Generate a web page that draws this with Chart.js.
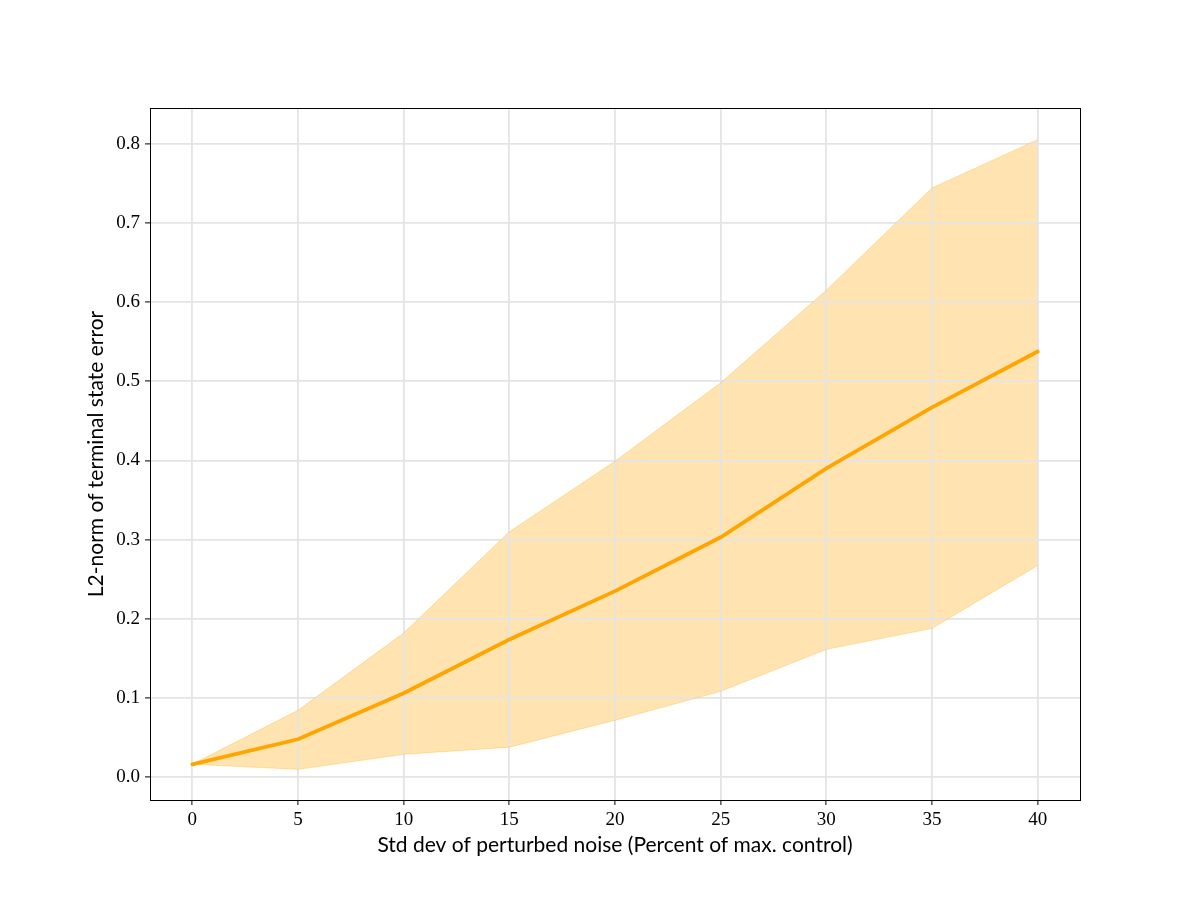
<!DOCTYPE html>
<html>
<head>
<meta charset="utf-8">
<script src="https://cdn.jsdelivr.net/npm/chart.js@4.4.1/dist/chart.umd.min.js"></script>
<style>
html,body{margin:0;padding:0;background:#fff;}
#wrap{width:1200px;height:900px;}
</style>
</head>
<body>
<div id="wrap"><canvas id="c" width="1200" height="900"></canvas></div>
<script>
const noiseLevels = [0, 5, 10, 15, 20, 25, 30, 35, 40];
const meanError = [0.0164, 0.048, 0.106, 0.174, 0.235, 0.303, 0.390, 0.467, 0.5375];
const upperError = [0.0164, 0.0845, 0.182, 0.310, 0.399, 0.498, 0.615, 0.744, 0.805];
const lowerError = [0.0164, 0.010, 0.029, 0.038, 0.072, 0.1085, 0.1615, 0.188, 0.2675];
const xTicks = [0, 5, 10, 15, 20, 25, 30, 35, 40];
const yTicks = [0.0, 0.1, 0.2, 0.3, 0.4, 0.5, 0.6, 0.7, 0.8];

const toPts = arr => noiseLevels.map((x, i) => ({x: x, y: arr[i]}));

const frame = {
  id: 'frame',
  afterDraw(chart) {
    const a = chart.chartArea, ctx = chart.ctx;
    ctx.save();
    ctx.strokeStyle = '#000';
    ctx.lineWidth = 1;
    ctx.strokeRect(Math.round(a.left) + 0.5, Math.round(a.top) + 0.5, Math.round(a.right - a.left), Math.round(a.bottom - a.top));
    ctx.restore();
  }
};

new Chart(document.getElementById('c'), {
  type: 'line',
  data: {
    datasets: [
      {
        label: 'upper',
        data: toPts(upperError),
        borderColor: 'rgba(255,165,0,0.3)',
        borderWidth: 1,
        backgroundColor: 'rgba(255,165,0,0.3)',
        fill: '+1',
        pointRadius: 0,
        tension: 0
      },
      {
        label: 'lower',
        data: toPts(lowerError),
        borderColor: 'rgba(255,165,0,0.3)',
        borderWidth: 1,
        fill: false,
        pointRadius: 0,
        tension: 0
      },
      {
        label: 'mean',
        data: toPts(meanError),
        borderColor: '#FFA500',
        borderWidth: 3.8,
        fill: false,
        pointRadius: 0,
        tension: 0,
        borderCapStyle: 'round'
      }
    ]
  },
  options: {
    responsive: false,
    animation: false,
    events: [],
    layout: {padding: {top: 108, right: 120, left: 0, bottom: 0}},
    plugins: {legend: {display: false}, tooltip: {enabled: false}, filler: {drawTime: 'beforeDraw'}},
    scales: {
      x: {
        type: 'linear',
        min: -2,
        max: 42,
        afterBuildTicks: s => { s.ticks = xTicks.map(v => ({value: v})); },
        afterFit: s => { s.height = 100; },
        grid: {color: '#e4e4e4', lineWidth: 1.8, tickColor: '#000', tickLength: 5, tickWidth: 1},
        border: {display: false},
        ticks: {color: '#000', font: {family: 'Liberation Serif', size: 19}, padding: 4, maxRotation: 0,
                callback: v => String(v)},
        title: {display: true, text: 'Std dev of perturbed noise (Percent of max. control)', color: '#000',
                font: {family: 'Lato', size: 21}, padding: {top: 0, bottom: 42}}
      },
      y: {
        type: 'linear',
        min: -0.0287,
        max: 0.845,
        afterBuildTicks: s => { s.ticks = yTicks.map(v => ({value: v})); },
        afterFit: s => { s.width = 150; },
        grid: {color: '#e4e4e4', lineWidth: 1.8, tickColor: '#000', tickLength: 5, tickWidth: 1},
        border: {display: false},
        ticks: {color: '#000', font: {family: 'Liberation Serif', size: 19}, padding: 5,
                callback: v => v.toFixed(1)},
        title: {display: true, text: 'L2-norm of terminal state error', color: '#000',
                font: {family: 'Lato', size: 21}, padding: {top: 84, bottom: 0}}
      }
    }
  },
  plugins: [frame]
});
</script>
</body>
</html>
